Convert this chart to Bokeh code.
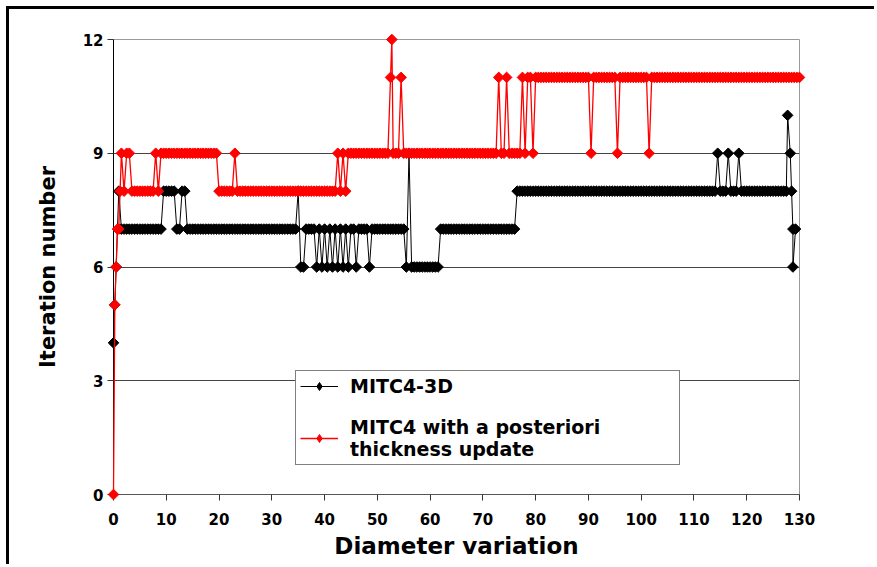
import math
from bokeh.plotting import figure
from bokeh.models import Range1d, FixedTicker, Legend, LegendItem
from bokeh.embed import file_html
from bokeh.resources import INLINE

# ---------------- data ----------------
x_ticks = [0, 10, 20, 30, 40, 50, 60, 70, 80, 90, 100, 110, 120, 130]
y_ticks = [0, 3, 6, 9, 12]
x_title = "Diameter variation"
y_title = "Iteration number"
series_names = ["MITC4-3D", "MITC4 with a posteriori\nthickness update"]

black_x = [
    0, 0.25, 0.5, 1, 1.5,
    2, 2.5, 3, 3.5, 4, 4.5, 5, 5.5, 6, 6.5, 7, 7.5, 8, 8.5, 9, 9.5, 10, 10.5, 11, 11.5,
    12, 12.5, 13, 13.5, 14, 14.5, 15, 15.5, 16, 16.5, 17, 17.5, 18, 18.5, 19, 19.5, 20, 20.5, 21, 21.5,
    22, 22.5, 23, 23.5, 24, 24.5, 25, 25.5, 26, 26.5, 27, 27.5, 28, 28.5, 29, 29.5, 30, 30.5, 31, 31.5,
    32, 32.5, 33, 33.5, 34, 34.5, 35, 35.5, 36, 36.5, 37, 37.5, 38, 38.5, 39, 39.5, 40, 40.5, 41, 41.5,
    42, 42.5, 43, 43.5, 44, 44.5, 45, 45.5, 46, 46.5, 47, 47.5, 48, 48.5, 49, 49.5, 50, 50.5, 51, 51.5,
    52, 52.5, 53, 53.5, 54, 54.5, 55, 55.5, 56, 56.5, 57, 57.5, 58, 58.5, 59, 59.5, 60, 60.5, 61, 61.5,
    62, 62.5, 63, 63.5, 64, 64.5, 65, 65.5, 66, 66.5, 67, 67.5, 68, 68.5, 69, 69.5, 70, 70.5, 71, 71.5,
    72, 72.5, 73, 73.5, 74, 74.5, 75, 75.5, 76, 76.5, 77, 77.5, 78, 78.5, 79, 79.5, 80, 80.5, 81, 81.5,
    82, 82.5, 83, 83.5, 84, 84.5, 85, 85.5, 86, 86.5, 87, 87.5, 88, 88.5, 89, 89.5, 90, 90.5, 91, 91.5,
    92, 92.5, 93, 93.5, 94, 94.5, 95, 95.5, 96, 96.5, 97, 97.5, 98, 98.5, 99, 99.5, 100, 100.5, 101, 101.5,
    102, 102.5, 103, 103.5, 104, 104.5, 105, 105.5, 106, 106.5, 107, 107.5, 108, 108.5, 109, 109.5, 110, 110.5, 111, 111.5,
    112, 112.5, 113, 113.5, 114, 114.5, 115, 115.5, 116, 116.5, 117, 117.5, 118, 118.5, 119, 119.5, 120, 120.5, 121, 121.5,
    122, 122.5, 123, 123.5, 124, 124.5, 125, 125.5, 126, 126.5, 127, 127.5,
    127.75, 128.25, 128.5, 128.75, 128.75, 129.25,
]
black_y = [
    4, 5, 6, 8, 7,
    7, 7, 7, 7, 7, 7, 7, 7, 7, 7, 7, 7, 7, 7, 7, 8, 8, 8, 8, 8,
    7, 7, 8, 8, 7, 7, 7, 7, 7, 7, 7, 7, 7, 7, 7, 7, 7, 7, 7, 7,
    7, 7, 7, 7, 7, 7, 7, 7, 7, 7, 7, 7, 7, 7, 7, 7, 7, 7, 7, 7,
    7, 7, 7, 7, 7, 7, 8, 6, 6, 7, 7, 7, 7, 6, 7, 6, 7, 6, 7, 6,
    7, 6, 7, 6, 7, 6, 7, 7, 6, 7, 7, 7, 7, 6, 7, 7, 7, 7, 7, 7,
    7, 7, 7, 7, 7, 7, 7, 6, 9, 6, 6, 6, 6, 6, 6, 6, 6, 6, 6, 6,
    7, 7, 7, 7, 7, 7, 7, 7, 7, 7, 7, 7, 7, 7, 7, 7, 7, 7, 7, 7,
    7, 7, 7, 7, 7, 7, 7, 7, 7, 8, 8, 8, 8, 8, 8, 8, 8, 8, 8, 8,
    8, 8, 8, 8, 8, 8, 8, 8, 8, 8, 8, 8, 8, 8, 8, 8, 8, 8, 8, 8,
    8, 8, 8, 8, 8, 8, 8, 8, 8, 8, 8, 8, 8, 8, 8, 8, 8, 8, 8, 8,
    8, 8, 8, 8, 8, 8, 8, 8, 8, 8, 8, 8, 8, 8, 8, 8, 8, 8, 8, 8,
    8, 8, 8, 8, 8, 9, 8, 8, 8, 9, 8, 8, 8, 9, 8, 8, 8, 8, 8, 8,
    8, 8, 8, 8, 8, 8, 8, 8, 8, 8, 8, 8,
    10, 9, 8, 7, 6, 7,
]

red_x = [
    0, 0.25, 0.5, 0.75, 1, 1.25, 1.5,
    2, 2.5, 3, 3.5, 4, 4.5, 5, 5.5, 6, 6.5, 7, 7.5, 8, 8.5, 9, 9.5, 10, 10.5, 11, 11.5,
    12, 12.5, 13, 13.5, 14, 14.5, 15, 15.5, 16, 16.5, 17, 17.5, 18, 18.5, 19, 19.5, 20, 20.5, 21, 21.5,
    22, 22.5, 23, 23.5, 24, 24.5, 25, 25.5, 26, 26.5, 27, 27.5, 28, 28.5, 29, 29.5, 30, 30.5, 31, 31.5,
    32, 32.5, 33, 33.5, 34, 34.5, 35, 35.5, 36, 36.5, 37, 37.5, 38, 38.5, 39, 39.5, 40, 40.5, 41, 41.5,
    42, 42.5, 43, 43.5, 44, 44.5, 45, 45.5, 46, 46.5, 47, 47.5, 48, 48.5, 49, 49.5, 50, 50.5, 51, 51.5,
    52, 52.5, 52.75, 53, 53.5, 54, 54.5, 55, 55.5, 56, 56.5, 57, 57.5, 58, 58.5, 59, 59.5, 60, 60.5, 61, 61.5,
    62, 62.5, 63, 63.5, 64, 64.5, 65, 65.5, 66, 66.5, 67, 67.5, 68, 68.5, 69, 69.5, 70, 70.5, 71, 71.5,
    72, 72.5, 73, 73.5, 74, 74.5, 75, 75.5, 76, 76.5, 77, 77.5, 78, 78.5, 79, 79.5, 80, 80.5, 81, 81.5,
    82, 82.5, 83, 83.5, 84, 84.5, 85, 85.5, 86, 86.5, 87, 87.5, 88, 88.5, 89, 89.5, 90, 90.5, 91, 91.5,
    92, 92.5, 93, 93.5, 94, 94.5, 95, 95.5, 96, 96.5, 97, 97.5, 98, 98.5, 99, 99.5, 100, 100.5, 101, 101.5,
    102, 102.5, 103, 103.5, 104, 104.5, 105, 105.5, 106, 106.5, 107, 107.5, 108, 108.5, 109, 109.5, 110, 110.5, 111, 111.5,
    112, 112.5, 113, 113.5, 114, 114.5, 115, 115.5, 116, 116.5, 117, 117.5, 118, 118.5, 119, 119.5, 120, 120.5, 121, 121.5,
    122, 122.5, 123, 123.5, 124, 124.5, 125, 125.5, 126, 126.5, 127, 127.5, 128, 128.5, 129, 129.5, 130,
]
red_y = [
    0, 5, 6, 7, 7, 8, 9,
    8, 9, 9, 8, 8, 8, 8, 8, 8, 8, 8, 8, 9, 8, 9, 9, 9, 9, 9, 9,
    9, 9, 9, 9, 9, 9, 9, 9, 9, 9, 9, 9, 9, 9, 9, 9, 8, 8, 8, 8,
    8, 8, 9, 8, 8, 8, 8, 8, 8, 8, 8, 8, 8, 8, 8, 8, 8, 8, 8, 8,
    8, 8, 8, 8, 8, 8, 8, 8, 8, 8, 8, 8, 8, 8, 8, 8, 8, 8, 8, 8,
    8, 9, 8, 9, 8, 9, 9, 9, 9, 9, 9, 9, 9, 9, 9, 9, 9, 9, 9, 9,
    9, 11, 12, 9, 9, 9, 11, 9, 9, 9, 9, 9, 9, 9, 9, 9, 9, 9, 9, 9, 9,
    9, 9, 9, 9, 9, 9, 9, 9, 9, 9, 9, 9, 9, 9, 9, 9, 9, 9, 9, 9,
    9, 9, 11, 9, 9, 11, 9, 9, 9, 9, 9, 11, 9, 11, 11, 9, 11, 11, 11, 11,
    11, 11, 11, 11, 11, 11, 11, 11, 11, 11, 11, 11, 11, 11, 11, 11, 11, 9, 11, 11,
    11, 11, 11, 11, 11, 11, 11, 9, 11, 11, 11, 11, 11, 11, 11, 11, 11, 11, 11, 9,
    11, 11, 11, 11, 11, 11, 11, 11, 11, 11, 11, 11, 11, 11, 11, 11, 11, 11, 11, 11,
    11, 11, 11, 11, 11, 11, 11, 11, 11, 11, 11, 11, 11, 11, 11, 11, 11, 11, 11, 11,
    11, 11, 11, 11, 11, 11, 11, 11, 11, 11, 11, 11, 11, 11, 11, 11, 11,
]

assert len(black_x) == len(black_y), (len(black_x), len(black_y))
assert len(red_x) == len(red_y), (len(red_x), len(red_y))

# ---------------- figure ----------------
FONT = "DejaVu Sans"

p = figure(
    width=868, height=558,
    x_range=Range1d(0, 130), y_range=Range1d(0, 12),
    output_backend="svg", toolbar_location=None,
    min_border_left=104, min_border_right=78,
    min_border_top=30, min_border_bottom=73,
    background_fill_color="white", border_fill_color="white",
    outline_line_color="#9a9a9a", outline_line_width=1,
)
p.styles = {
    "margin-left": "6px", "margin-top": "6px",
    "border-left": "3px solid black", "border-top": "3px solid black",
}

p.xgrid.visible = False
p.ygrid.grid_line_color = "#444444"
p.ygrid.grid_line_width = 1

p.xaxis.ticker = FixedTicker(ticks=x_ticks)
p.yaxis.ticker = FixedTicker(ticks=y_ticks)
for ax in (p.xaxis[0], p.yaxis[0]):
    ax.major_tick_out = 6
    ax.major_tick_in = 0
    ax.minor_tick_out = 0
    ax.minor_tick_in = 0
    ax.major_tick_line_color = "#333333"
    ax.major_label_text_font = FONT
    ax.major_label_text_font_style = "bold"
    ax.major_label_text_font_size = "15px"
    ax.major_label_text_color = "black"
    ax.axis_label_text_font = FONT
    ax.axis_label_text_font_style = "bold"
    ax.axis_label_text_color = "black"

p.xaxis.axis_label = x_title
p.yaxis.axis_label = y_title
p.xaxis.axis_label_text_font_size = "23px"
p.yaxis.axis_label_text_font_size = "21px"
p.xaxis.axis_line_color = "#555555"
p.yaxis.axis_line_color = "black"
p.xaxis.major_label_standoff = 12
p.yaxis.major_label_standoff = 4
p.xaxis.axis_label_standoff = 5
p.yaxis.axis_label_standoff = 20

# "overlay" level so that the markers on the frame edges are not cut off
bl = p.line(black_x, black_y, line_color="black", line_width=1, level="overlay")
bs = p.scatter(black_x, black_y, marker="square", angle=math.pi / 4, size=7.5,
               fill_color="black", line_color="black", level="overlay")
rl = p.line(red_x, red_y, line_color="#ff0000", line_width=1.3, level="overlay")
rs = p.scatter(red_x, red_y, marker="square", angle=math.pi / 4, size=7.5,
               fill_color="#ff0000", line_color="#ff0000", level="overlay")

# legend-only diamond keys (a single NaN point, so nothing is drawn in the plot)
nan = float("nan")
bkey = p.scatter(x=[nan], y=[nan], marker="diamond", size=11,
                 fill_color="black", line_color="black")
rkey = p.scatter(x=[nan], y=[nan], marker="diamond", size=11,
                 fill_color="#ff0000", line_color="#ff0000")

legend = Legend(
    items=[LegendItem(label=series_names[0], renderers=[bl, bkey]),
           LegendItem(label=series_names[1], renderers=[rl, rkey])],
    location=(182, 29),
    label_text_font=FONT, label_text_font_style="bold", label_text_font_size="19px",
    label_text_color="black", label_text_line_height=1.1,
    glyph_width=38, glyph_height=20, label_height=20, label_standoff=12,
    label_width=325, padding=4, spacing=19,
    border_line_color="black", border_line_width=1,
    background_fill_color="white", background_fill_alpha=1.0,
    margin=0,
)
p.add_layout(legend)

open("out.html", "w").write(file_html(p, INLINE))
